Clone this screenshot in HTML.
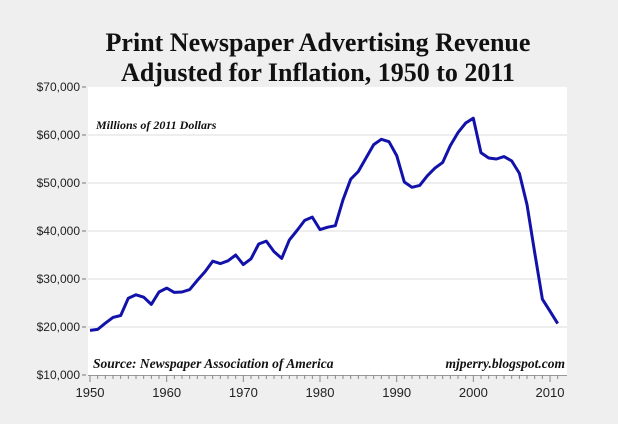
<!DOCTYPE html>
<html><head><meta charset="utf-8">
<style>
html,body{margin:0;padding:0;background:#efefef;}
svg{display:block;}
</style></head>
<body>
<svg width="618" height="424" xmlns="http://www.w3.org/2000/svg">
<rect x="0" y="0" width="618" height="424" fill="#efefef"/>
<text x="318" y="51" text-anchor="middle" font-family="Liberation Serif, serif" font-weight="bold" font-size="26" fill="#111">Print Newspaper Advertising Revenue</text>
<text x="318" y="81" text-anchor="middle" font-family="Liberation Serif, serif" font-weight="bold" font-size="26" fill="#111">Adjusted for Inflation, 1950 to 2011</text>
<rect x="88" y="87" width="479" height="288" fill="#fff"/>
<g id="grid"></g>
<g id="yaxis"></g>
<g id="xaxis"></g>
<text x="96" y="129" font-family="Liberation Serif, serif" font-style="italic" font-weight="bold" font-size="12" fill="#111">Millions of 2011 Dollars</text>
<text x="93" y="368" font-family="Liberation Serif, serif" font-style="italic" font-weight="bold" font-size="13.5" fill="#111">Source: Newspaper Association of America</text>
<text x="565" y="368" text-anchor="end" font-family="Liberation Serif, serif" font-style="italic" font-weight="bold" font-size="13.5" fill="#111">mjperry.blogspot.com</text>
<path id="line" fill="none" stroke="#1212aa" stroke-width="3" stroke-linejoin="round"/>
</svg>
<script>
const years = [];
for (let y = 1950; y <= 2011; y++) years.push(y);
const revenue = [19.3,19.5,20.8,22.0,22.4,26.0,26.7,26.2,24.7,27.3,28.1,27.2,27.3,27.8,29.7,31.5,33.7,33.2,33.8,35.0,33.0,34.2,37.3,37.9,35.7,34.3,38.1,40.1,42.2,42.9,40.3,40.8,41.1,46.5,50.8,52.4,55.2,58.0,59.1,58.6,55.7,50.2,49.1,49.5,51.5,53.1,54.3,57.8,60.5,62.5,63.5,56.3,55.2,55.0,55.5,54.6,52.0,45.5,35.5,25.8,23.3,20.7];
const yTicks = [10,20,30,40,50,60,70];
const yTickLabels = ["$10,000","$20,000","$30,000","$40,000","$50,000","$60,000","$70,000"];
const xTicks = [1950,1960,1970,1980,1990,2000,2010];

const NS = "http://www.w3.org/2000/svg";
const xs = v => 90 + (v - 1950) * 7.667;
const ys = v => 375 - (v - 10) * 4.8;
function mk(tag, attrs, parent){const e=document.createElementNS(NS,tag);for(const k in attrs)e.setAttribute(k,attrs[k]);parent.appendChild(e);return e;}
const grid=document.getElementById('grid'), ya=document.getElementById('yaxis'), xa=document.getElementById('xaxis');
yTicks.forEach((t,i)=>{
  if(t>10&&t<70){const g=mk('line',{x1:88,x2:567,y1:ys(t),y2:ys(t),stroke:'#dcdcdc','stroke-width':1},grid);
  
  }
  const tk=mk('line',{x1:82,x2:86,y1:ys(t),y2:ys(t),stroke:'#777','stroke-width':1},ya);
  
  
  const tx=mk('text',{x:80,y:ys(t)+4,'text-anchor':'end','font-family':'Liberation Sans, sans-serif','font-size':12,fill:'#222'},ya);
  tx.textContent=yTickLabels[i];
  
  
});
const ax=mk('line',{x1:88,x2:567,y1:375.5,y2:375.5,stroke:'#999','stroke-width':1},xa);


years.forEach(y=>{
  const major=y%10===0;
  const t=mk('line',{x1:xs(y),x2:xs(y),y1:375,y2:major?382:379,stroke:'#888','stroke-width':1},xa);
  
  
});
xTicks.forEach(y=>{
  const tx=mk('text',{x:xs(y),y:397,'text-anchor':'middle','font-family':'Liberation Sans, sans-serif','font-size':13,fill:'#222'},xa);
  tx.textContent=y;
  
  
});
document.getElementById('line').setAttribute('d', years.map((y,i)=>(i?'L':'M')+xs(y).toFixed(1)+','+ys(revenue[i]).toFixed(1)).join(' '));
</script>
</body></html>
